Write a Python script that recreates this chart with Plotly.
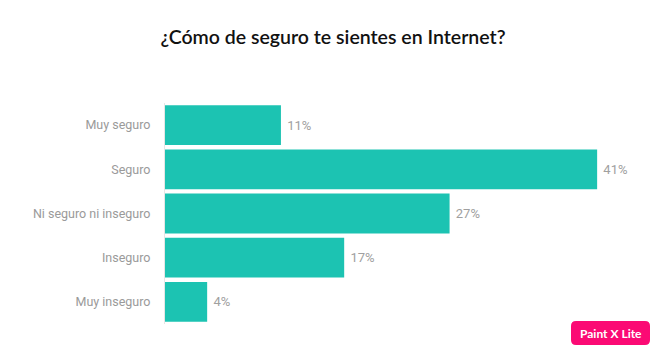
import plotly.graph_objects as go

categories = ["Muy seguro", "Seguro", "Ni seguro ni inseguro", "Inseguro", "Muy inseguro"]
values = [11, 41, 27, 17, 4]
labels = ["11%", "41%", "27%", "17%", "4%"]

fig = go.Figure(go.Bar(
    y=categories, x=values, orientation="h",
    marker=dict(color="#1cc3b2", line=dict(width=0)),
    text=["\u00a0" + t for t in labels], textposition="outside", cliponaxis=False,
    textfont=dict(family="Roboto", size=13, color="#a0a0a0"),
    hoverinfo="skip",
))

W, H = 661, 354
L, R, T, B = 165, 21, 103, 30
pw, ph = W - L - R, H - T - B

fig.update_layout(
    width=W, height=H,
    margin=dict(l=L, r=R, t=T, b=B),
    paper_bgcolor="white", plot_bgcolor="white",
    bargap=0.1,
    showlegend=False,
    title=dict(text="¿Cómo de seguro te sientes en Internet?",
               x=(333) / W, xref="container", xanchor="center", y=1 - 37 / H, yref="container", yanchor="middle",
               font=dict(family="Lato", size=19.5, color="#111111", weight=600)),
    xaxis=dict(range=[0, pw / 10.54], visible=False, fixedrange=True),
    yaxis=dict(autorange="reversed", showline=True, linecolor="#e6e6e6", linewidth=1,
               ticks="", ticklabelstandoff=11, showgrid=False, zeroline=False,
               tickfont=dict(family="Roboto", size=12.5, color="#9a9a9a")),
)

# badge
x0, y0, x1, y1, r = 571, 321, 650, 345, 5
bw, bh = x1 - x0, y1 - y0
fig.add_shape(type="path", xref="paper", yref="paper", xsizemode="pixel", ysizemode="pixel",
              xanchor=(x0 - L) / pw, yanchor=1 - (y0 - T) / ph,
              path=(f"M {r},0 L {bw-r},0 Q {bw},0 {bw},{-r} L {bw},{-(bh-r)} "
                    f"Q {bw},{-bh} {bw-r},{-bh} L {r},{-bh} Q 0,{-bh} 0,{-(bh-r)} "
                    f"L 0,{-r} Q 0,0 {r},0 Z"),
              fillcolor="#fb0a74", line=dict(width=0), layer="above")
fig.add_annotation(text="<b>Paint X Lite</b>", xref="paper", yref="paper",
                   x=((x0 + x1) / 2 - L) / pw, y=1 - ((y0 + y1) / 2 - T) / ph,
                   xanchor="center", yanchor="middle", showarrow=False,
                   font=dict(family="Lato", size=12, color="white"))

fig.write_html("out.html")
